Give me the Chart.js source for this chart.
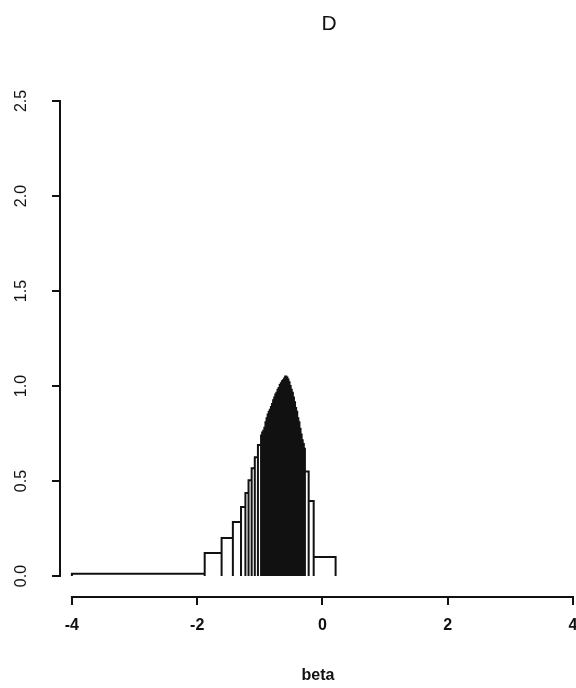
<!DOCTYPE html>
<html>
<head>
<meta charset="utf-8">
<script src="https://cdn.jsdelivr.net/npm/chart.js@4/dist/chart.umd.min.js"></script>
<style>
  html, body { margin: 0; padding: 0; background: #ffffff; }
  canvas { display: block; }
</style>
</head>
<body>
<canvas id="c" width="576" height="688"></canvas>
<script>
// Histogram of beta: bin edges and bin heights (density); bins get very narrow near the mode
const binEdges = [-4, -1.88, -1.61, -1.43, -1.30, -1.23, -1.18, -1.13, -1.08, -1.03,
  -0.98, -0.9625, -0.945, -0.9275, -0.91, -0.8925, -0.875, -0.8575, -0.84, -0.8225,
  -0.805, -0.7875, -0.77, -0.7525, -0.735, -0.7175, -0.70, -0.6825, -0.665, -0.6475,
  -0.63, -0.6125, -0.595, -0.5775, -0.56, -0.5425, -0.525, -0.5075, -0.49, -0.4725,
  -0.455, -0.4375, -0.42, -0.4025, -0.385, -0.3675, -0.35, -0.3325, -0.315, -0.2975,
  -0.28, -0.22, -0.14, 0.21];
const binHeights = [0.012, 0.121, 0.20, 0.284, 0.363, 0.437, 0.505, 0.568, 0.626, 0.69,
  0.74, 0.755, 0.765, 0.78, 0.81, 0.83, 0.85, 0.865, 0.875, 0.89,
  0.905, 0.925, 0.94, 0.955, 0.965, 0.98, 0.99, 1.005, 1.015, 1.025,
  1.03, 1.04, 1.05, 1.045, 1.035, 1.02, 1.0, 0.98, 0.965, 0.94,
  0.915, 0.885, 0.865, 0.83, 0.81, 0.775, 0.745, 0.715, 0.695, 0.67,
  0.55, 0.395, 0.10];
const xTicks = [-4, -2, 0, 2, 4];
const yTicks = [0, 0.5, 1.0, 1.5, 2.0, 2.5];
const titleText = 'D';
const xLabel = 'beta';

// Outline of every bin as one polyline: up the left edge, across, down the right edge
const outline = [];
for (let i = 0; i < binHeights.length; i++) {
  const l = binEdges[i], r = binEdges[i + 1], h = binHeights[i];
  outline.push({x: l, y: 0}, {x: l, y: h}, {x: r, y: h}, {x: r, y: 0});
}

const ink = '#111111';
const fontFamily = '"Liberation Sans", Arial, Helvetica, sans-serif';

// R-style detached axes: lines only span the tick range
const axisLines = {
  id: 'axisLines',
  afterDraw(chart) {
    const {ctx, chartArea, scales: {x, y}} = chart;
    ctx.save();
    ctx.strokeStyle = ink;
    ctx.lineWidth = 2;
    ctx.lineCap = 'square';
    ctx.beginPath();
    ctx.moveTo(x.getPixelForValue(xTicks[0]), chartArea.bottom);
    ctx.lineTo(x.getPixelForValue(xTicks[xTicks.length - 1]), chartArea.bottom);
    ctx.moveTo(chartArea.left, y.getPixelForValue(yTicks[0]));
    ctx.lineTo(chartArea.left, y.getPixelForValue(yTicks[yTicks.length - 1]));
    ctx.stroke();
    // panel title
    ctx.fillStyle = ink;
    ctx.font = '21px ' + fontFamily;
    ctx.textAlign = 'center';
    ctx.textBaseline = 'alphabetic';
    ctx.fillText(titleText, 329, 30);
    ctx.restore();
  }
};

new Chart(document.getElementById('c'), {
  type: 'scatter',
  data: {
    datasets: [{
      data: outline,
      showLine: true,
      borderColor: ink,
      borderWidth: 2,
      pointRadius: 0,
      tension: 0,
      fill: false
    }]
  },
  options: {
    responsive: false,
    animation: false,
    devicePixelRatio: 1,
    layout: { padding: { top: 101, left: 0, right: 0, bottom: 0 } },
    plugins: { legend: { display: false }, tooltip: { enabled: false }, title: { display: false } },
    scales: {
      x: {
        type: 'linear',
        min: -4.19,
        max: 4.048,
        afterBuildTicks: s => { s.ticks = xTicks.map(v => ({value: v})); },
        afterFit: s => { s.height = 91; s.paddingLeft = 0; s.paddingRight = 0; },
        border: { display: false },
        grid: { drawOnChartArea: false, drawTicks: true, tickLength: 8, color: ink, lineWidth: 2 },
        ticks: {
          color: ink,
          padding: 11,
          maxRotation: 0,
          font: { family: fontFamily, size: 16, weight: 'bold' },
          callback: v => String(v)
        },
        title: {
          display: true,
          text: xLabel,
          color: ink,
          padding: { top: 0, bottom: 3 },
          font: { family: fontFamily, size: 16, weight: 'bold' }
        }
      },
      y: {
        type: 'linear',
        min: -0.11,
        max: 2.5,
        afterBuildTicks: s => { s.ticks = yTicks.map(v => ({value: v})); },
        afterFit: s => { s.width = 60; s.paddingTop = 0; s.paddingBottom = 0; },
        border: { display: false },
        grid: { drawOnChartArea: false, drawTicks: true, tickLength: 8, color: ink, lineWidth: 2 },
        ticks: {
          color: ink,
          padding: 19,
          minRotation: 90,
          maxRotation: 90,
          crossAlign: 'center',
          font: { family: fontFamily, size: 16 },
          callback: v => Number(v).toFixed(1)
        }
      }
    }
  },
  plugins: [axisLines]
});
</script>
</body>
</html>
